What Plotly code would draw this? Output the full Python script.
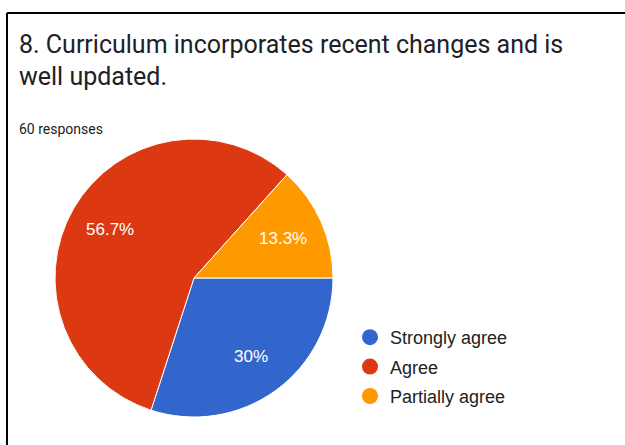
import math
import plotly.graph_objects as go

W, H = 625, 445

categories = ["Strongly agree", "Agree", "Partially agree"]
counts = [18, 34, 8]
colors = ["#3366CC", "#DC3912", "#FF9900"]
title_lines = ["8. Curriculum incorporates recent changes and is", "well updated."]
subtitle = "60 responses"

fig = go.Figure()

# pie geometry
cx, cy, r = 194, 278, 139
fig.add_trace(go.Pie(
    labels=categories, values=counts, sort=False, direction="clockwise", rotation=90,
    marker=dict(colors=colors, line=dict(color="white", width=1)),
    textinfo="none",
    domain=dict(x=[(cx - r) / W, (cx + r) / W], y=[1 - (cy + r) / H, 1 - (cy - r) / H]),
    showlegend=False, hoverinfo="label+percent",
))

# percent labels placed at slice mid-angles (Google Charts style)
total = sum(counts)
annotations = []
start = 90.0
for c in counts:
    frac = c / total
    mid = start + frac * 360 / 2
    start += frac * 360
    pct = f"{frac * 100:.1f}".rstrip("0").rstrip(".") + "%"
    rr = 0.70 * r
    px = cx + rr * math.sin(math.radians(mid))
    py = cy - rr * math.cos(math.radians(mid))
    annotations.append(dict(text=pct, x=px / W, y=1 - py / H, xref="paper", yref="paper",
                            xanchor="center", yanchor="middle", showarrow=False,
                            font=dict(family="Liberation Sans, Arial", size=17, color="white")))

# legend entries (circle markers)
for i, (name, col) in enumerate(zip(categories, colors)):
    fig.add_trace(go.Scatter(
        x=[None], y=[None], mode="markers", name=name, legendgroup=str(i),
        marker=dict(color=col, size=18, symbol="circle"),
    ))

annotations += [
    dict(text=title_lines[0], x=17 / W, y=1 - 44 / H, xref="paper", yref="paper",
         xanchor="left", yanchor="middle", showarrow=False,
         font=dict(family="Roboto", size=25, color="#202124")),
    dict(text=title_lines[1], x=17 / W, y=1 - 77 / H, xref="paper", yref="paper",
         xanchor="left", yanchor="middle", showarrow=False,
         font=dict(family="Roboto", size=25, color="#202124")),
    dict(text=subtitle, x=17 / W, y=1 - 129 / H, xref="paper", yref="paper",
         xanchor="left", yanchor="middle", showarrow=False,
         font=dict(family="Roboto", size=14, color="#202124")),
]

fig.update_layout(
    width=W, height=H, margin=dict(l=0, r=0, t=0, b=0),
    paper_bgcolor="white", plot_bgcolor="white",
    xaxis=dict(visible=False), yaxis=dict(visible=False),
    legend=dict(x=350 / W, y=1 - 319 / H, xanchor="left", yanchor="top",
                font=dict(family="Liberation Sans, Arial", size=18, color="#222222"),
                tracegroupgap=3, bgcolor="rgba(0,0,0,0)"),
    shapes=[
        dict(type="line", xref="paper", yref="paper", x0=7 / W, x1=1.01, y0=1 - 13 / H, y1=1 - 13 / H,
             line=dict(color="black", width=2)),
        dict(type="line", xref="paper", yref="paper", x0=7 / W, x1=7 / W, y0=1 - 13 / H, y1=-0.01,
             line=dict(color="black", width=2)),
    ],
    annotations=annotations,
)

fig.write_html("out.html")
